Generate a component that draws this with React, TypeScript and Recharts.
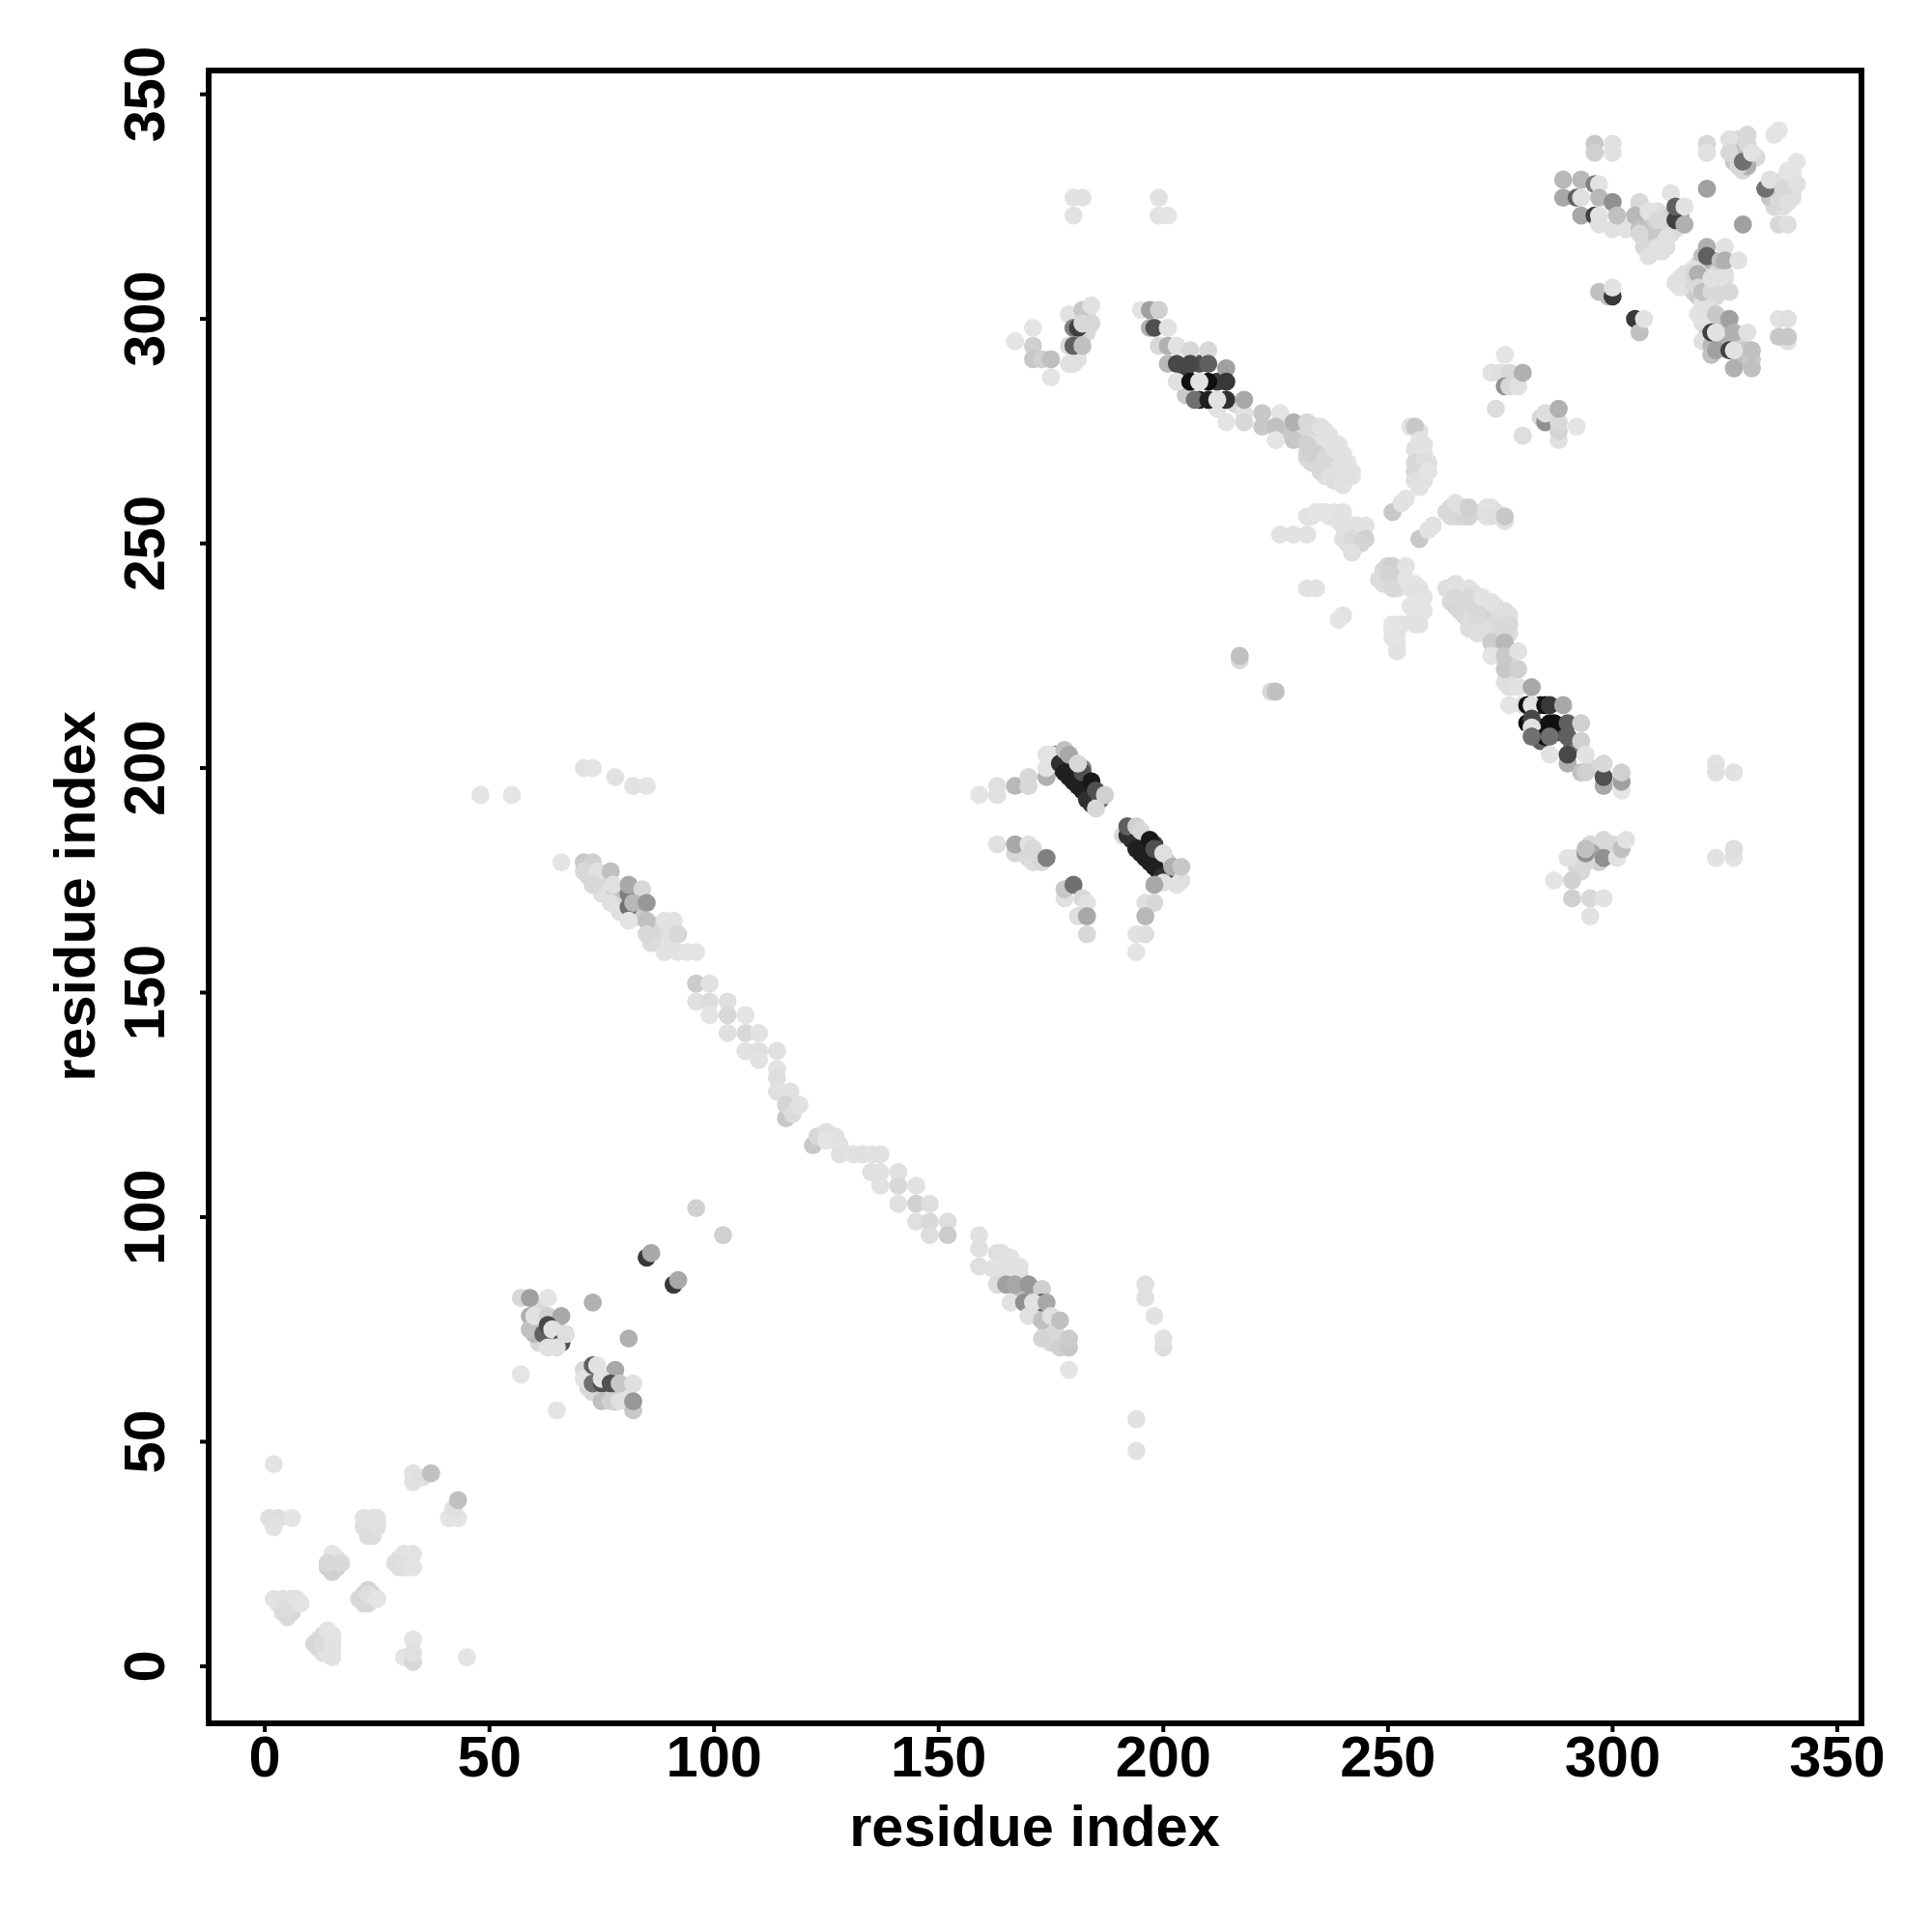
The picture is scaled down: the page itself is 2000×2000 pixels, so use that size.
import { ScatterChart, Scatter, XAxis, YAxis, ReferenceArea, Label } from 'recharts'

type Row = [number, number, number] // x, y, grey level

const TICKS = [0, 50, 100, 150, 200, 250, 300, 350]
const AXIS_TITLE = 'residue index'

// residues that only show as overlap inside the blobs, drawn first
const startFill: Row[] = [
  [3, 14, 222], [4, 13, 216], [5, 14, 216], [6, 13, 216], [4, 12, 220], [6, 12, 216], [5, 12, 216], [7, 14, 220],
  [12, 6, 216], [13, 7, 218], [12, 4, 216], [13, 3, 222], [14, 3, 226], [14, 5, 216], [14, 6, 216], [15, 5, 222], [15, 3, 224], [15, 6, 222],
  [15, 22, 200], [16, 24, 222], [16, 22, 200], [15, 24, 224], [14, 22, 208],
  [23, 32, 226], [24, 33, 224], [23, 30, 220], [24, 30, 222], [24, 29, 222], [25, 32, 224], [24, 31, 222],
  [30, 24, 222], [30, 22, 222], [32, 24, 226], [32, 23, 226], [31, 23, 224],
  [22, 16, 210], [22, 14, 216], [24, 16, 216],
]

const helixFill: Row[] = [
  [61, 80, 216], [61, 76, 216], [62, 72, 216], [64, 73, 216], [65, 75, 216], [61, 72, 216], [60, 74, 184], [65, 73, 184],
  [73, 61, 216], [72, 62, 216], [73, 65, 208], [76, 61, 208], [80, 61, 224], [80, 60, 216], [81, 62, 224],
  [83, 167, 200], [79, 172, 216], [76, 175, 216], [87, 165, 216], [88, 163, 216], [86, 161, 220], [90, 161, 226],
  [75, 172, 224], [79, 168, 224], [83, 171, 168], [80, 171, 208], [78, 173, 192], [72, 176, 208],
  [164, 90, 224], [165, 88, 224], [168, 87, 220], [168, 83, 192], [171, 84, 176], [172, 79, 216], [175, 76, 208],
  [176, 74, 216], [178, 72, 200], [175, 72, 216], [174, 75, 216], [167, 87, 224], [168, 89, 226],
]

const sheetFill: Row[] = [
  [176, 202, 64], [177, 200, 40], [179, 198, 32], [181, 196, 32], [183, 194, 32], [184, 192, 56], [176, 203, 96], [180, 201, 96], [182, 200, 128],
  [193, 184, 40], [195, 181, 32], [197, 179, 32], [199, 177, 32], [201, 175, 64], [193, 186, 80], [196, 183, 64], [198, 183, 64], [200, 180, 176], [201, 179, 200],
  [183, 301, 216], [183, 297, 216], [181, 296, 208], [183, 300, 224], [181, 291, 226],
  [205, 286, 216], [205, 289, 64], [208, 290, 80], [212, 286, 64], [208, 282, 32], [205, 283, 200], [212, 280, 226], [216, 281, 216],
  [227, 277, 216], [228, 275, 200], [230, 275, 192], [231, 274, 208], [231, 276, 216], [233, 276, 216], [234, 275, 216],
  [284, 214, 32], [284, 209, 32], [284, 206, 96], [288, 208, 64], [291, 205, 128], [295, 200, 216],
  [295, 183, 216], [296, 181, 168], [297, 179, 208], [299, 183, 216], [300, 181, 96], [300, 183, 216], [301, 182, 216], [292, 178, 216], [292, 180, 226], [293, 177, 216],
]

const bandFill: Row[] = [
  [232, 274, 216], [233, 273, 208], [234, 272, 216], [235, 271, 216], [236, 270, 216], [237, 269, 220], [238, 268, 222], [239, 266, 224], [240, 265, 224],
  [233, 275, 216], [234, 274, 222], [235, 273, 224], [236, 272, 224], [237, 271, 226], [238, 270, 226], [239, 269, 226], [240, 267, 226], [241, 266, 226],
  [234, 270, 208], [235, 269, 212], [236, 267, 212], [237, 267, 216], [238, 266, 218], [239, 264, 224], [234, 268, 214], [235, 268, 218], [236, 265, 222],
  [232, 269, 218], [232, 270, 214], [234, 276, 216], [236, 275, 222], [239, 272, 226], [240, 270, 226], [241, 268, 226], [242, 265, 226], [242, 266, 226],
  [264, 239, 222], [265, 240, 224], [266, 239, 222], [267, 238, 220], [266, 237, 216], [267, 236, 214], [268, 236, 212], [269, 239, 224], [269, 235, 214],
  [270, 237, 222], [270, 232, 216], [271, 236, 214], [271, 234, 212], [272, 235, 212], [272, 233, 208], [273, 234, 212], [273, 232, 204], [274, 236, 224],
  [274, 233, 216], [275, 234, 220], [275, 231, 212], [276, 232, 216], [277, 234, 224], [277, 230, 222], [274, 230, 214], [275, 229, 208], [276, 230, 216],
  [272, 231, 220], [264, 237, 216], [265, 236, 214], [266, 235, 214], [267, 234, 216], [268, 231, 222], [269, 232, 220], [270, 230, 222], [271, 231, 222],
  [277, 226, 216], [276, 224, 212], [277, 223, 216], [277, 220, 222], [276, 219, 224],
  [257, 270, 224], [256, 271, 224], [257, 266, 220], [258, 266, 224], [258, 264, 224], [257, 264, 220], [259, 268, 224], [257, 275, 226], [258, 270, 226],
  [233, 256, 226], [235, 257, 226], [237, 256, 226], [238, 257, 228], [239, 255, 226], [241, 254, 224], [243, 254, 224], [241, 252, 220], [243, 252, 216], [243, 250, 214], [241, 250, 218], [244, 252, 212], [238, 256, 226],
  [249, 244, 216], [250, 245, 212], [249, 241, 222], [252, 242, 216], [252, 244, 222], [253, 243, 224], [251, 242, 214], [252, 240, 222], [255, 240, 226], [256, 241, 228],
  [258, 238, 228], [255, 236, 228], [256, 236, 228], [258, 235, 228], [257, 232, 226], [256, 234, 226], [251, 231, 228], [252, 230, 228], [253, 232, 226], [252, 228, 228],
  [264, 258, 216], [266, 257, 216], [265, 256, 214], [266, 256, 214], [264, 256, 218], [267, 256, 214], [269, 257, 216], [273, 258, 226], [274, 257, 222], [271, 257, 224], [275, 256, 226],
]

const cornerFill: Row[] = [
  [306, 325, 218], [307, 324, 216], [308, 322, 210], [309, 323, 216], [309, 320, 200], [310, 324, 222], [311, 323, 220], [311, 320, 204], [312, 322, 216], [312, 320, 208],
  [313, 321, 212], [313, 323, 208], [309, 317, 208], [311, 317, 212], [309, 315, 216], [307, 318, 212], [307, 316, 216], [308, 318, 208], [308, 320, 200], [307, 322, 204],
  [313, 319, 216], [314, 320, 220], [311, 315, 224], [312, 316, 224], [315, 323, 128],
  [315, 309, 224], [316, 308, 220], [317, 307, 216], [318, 306, 212], [317, 309, 216], [315, 307, 226], [319, 305, 200], [320, 304, 216], [320, 308, 192], [321, 307, 176],
  [321, 310, 184], [322, 311, 200], [320, 311, 216], [319, 312, 216], [320, 314, 192], [322, 313, 176], [323, 310, 216], [323, 308, 224], [324, 307, 216], [325, 309, 226],
  [324, 311, 216], [325, 310, 224], [323, 305, 216], [321, 304, 224], [318, 308, 216], [320, 303, 226], [321, 302, 224], [320, 299, 226], [322, 300, 224], [321, 298, 224], [319, 301, 226],
  [327, 339, 216], [328, 340, 216], [329, 338, 192], [327, 335, 200], [328, 337, 192], [332, 336, 216], [329, 333, 216], [330, 334, 176],
  [336, 328, 200], [337, 330, 216], [338, 327, 216], [339, 328, 224], [340, 328, 224], [336, 325, 216], [335, 327, 200], [338, 325, 224], [338, 331, 224], [340, 332, 228], [340, 333, 228], [340, 327, 222],
  [321, 296, 200], [320, 295, 224], [322, 294, 184], [322, 292, 192], [324, 295, 176], [325, 298, 176], [325, 296, 200], [325, 294, 176], [328, 296, 184], [328, 292, 192], [329, 294, 208], [330, 291, 192], [330, 293, 200], [331, 291, 200],
  [324, 299, 184],
]

// contacts near the chain start
const startContacts: Row[] = [
  [2, 45, 228], [1, 33, 224], [3, 33, 222], [6, 33, 228], [2, 31, 226],
  [15, 25, 228], [15, 21, 208], [14, 23, 216], [17, 23, 216],
  [22, 33, 226], [25, 33, 226], [22, 31, 224], [23, 29, 220], [25, 31, 224],
  [31, 25, 226], [33, 25, 226], [29, 23, 222], [31, 22, 224], [33, 22, 228],
  [33, 43, 226], [33, 41, 226], [35, 42, 224], [37, 43, 192],
  [41, 33, 228], [43, 33, 228], [42, 35, 224], [43, 37, 192],
  [2, 15, 226], [4, 15, 224], [6, 15, 224], [5, 11, 216], [5, 13, 220], [7, 15, 226], [8, 14, 228],
  [11, 5, 216], [13, 5, 220], [15, 2, 226], [15, 4, 226], [15, 7, 226], [14, 8, 228],
  [21, 15, 216], [23, 14, 216], [23, 17, 212], [23, 16, 222], [25, 15, 228],
  [33, 6, 228], [31, 2, 228], [33, 1, 216], [33, 3, 224], [45, 2, 228],
]

const helixA: Row[] = [
  [57, 82, 216], [59, 82, 160], [63, 82, 228], [59, 78, 176], [59, 75, 192], [60, 78, 226], [63, 78, 208],
  [66, 78, 168], [62, 74, 96], [63, 76, 72], [64, 75, 226], [66, 72, 80], [63, 71, 224], [65, 71, 224], [67, 74, 222],
  [73, 81, 176], [81, 73, 176], [85, 91, 56], [86, 92, 168], [91, 85, 56], [92, 86, 168],
  [57, 65, 228], [65, 57, 228],
  [71, 66, 216], [71, 64, 226], [73, 67, 96], [74, 67, 226], [78, 66, 168], [73, 63, 112], [75, 63, 80], [75, 64, 226],
  [77, 63, 80], [79, 63, 200], [82, 63, 224], [75, 59, 192], [78, 59, 176], [77, 59, 208], [79, 59, 224], [82, 57, 200], [82, 59, 152],
]

const strandLower: Row[] = [
  [48, 194, 228], [55, 194, 228], [71, 200, 226], [73, 200, 228], [78, 198, 226], [82, 196, 226], [85, 196, 228],
  [66, 179, 228], [71, 179, 200], [73, 179, 208], [71, 177, 216], [74, 177, 224], [73, 174, 216], [77, 177, 192],
  [77.5, 174, 224], [81, 172, 128], [81, 174, 168], [84, 173, 216], [77, 170, 224], [81, 169, 112], [82, 170, 184],
  [85, 170, 152], [81, 166, 228], [85, 166, 192], [85, 163, 216], [89, 166, 226], [91, 166, 226], [90, 163, 224], [92, 163, 216],
  [89, 159, 226], [92, 159, 226], [94, 159, 228], [96, 159, 228],
]

const strandMiddle: Row[] = [
  [96, 152, 204], [99, 152, 226], [96, 148, 224], [99, 148, 220], [103, 148, 224], [99, 145, 228], [103, 145, 216], [107, 145, 228],
  [103, 141, 224], [107, 141, 216], [110, 141, 226], [107, 137, 226], [110, 137, 224], [114, 137, 224], [110, 135, 226],
  [114, 133, 226], [114, 131, 222], [114, 128, 224], [117, 128, 224], [116, 122, 200], [116, 125, 212], [117.5, 123, 220], [119, 125, 226],
  [122, 116, 200], [123, 118, 216], [125, 119, 224], [127, 118, 224], [125, 117, 228], [128, 116, 226], [128, 114, 224],
  [131, 114, 226], [133, 114, 224], [135, 114, 226], [137, 114, 224], [135, 110, 224], [137, 110, 226], [137, 107, 226],
  [141, 110, 224], [141, 107, 216], [145, 107, 226], [141, 103, 224], [145, 103, 208], [148, 103, 222], [145, 99, 224],
  [148, 99, 216], [152, 99, 222], [148, 96, 222], [152, 96, 204], [96, 102, 208], [102, 96, 208],
]

const strandUpper: Row[] = [
  [159, 96, 226], [159, 93, 224], [159, 89, 224], [163, 92, 222], [164, 92, 224], [162, 88.5, 226], [166, 91, 226], [166, 89, 226],
  [163, 85, 220], [165, 85, 160], [167, 85, 168], [170, 85, 152], [173, 84, 208], [166, 81, 226], [169, 81, 144],
  [173, 81, 96], [171, 81, 226], [174, 81, 168], [170, 78, 224], [173, 77, 192], [175, 78, 224], [177, 77, 192],
  [173, 73, 212], [177, 72, 216], [177, 71, 208], [179, 71, 200], [179, 73, 204], [179, 66, 228],
  [196, 85, 224], [196, 82, 224], [198, 78, 226], [200, 71, 222], [200, 73, 226], [194, 55, 226], [194, 48, 226],
]

const sheetA: Row[] = [
  [159, 194, 228], [163, 196, 224], [163, 194, 224], [167, 196, 184], [170, 196, 216], [170, 198, 216], [174, 198, 176], [174, 200, 226],
  [174, 203, 226], [175, 203, 228], [177, 201, 48], [178, 199, 32], [180, 197, 32], [182, 195, 32], [183, 193, 48],
  [178, 204, 192], [179, 203, 168], [182, 199, 80], [181, 201, 216], [184, 197, 24], [186, 193, 112], [185, 191, 216], [185, 195, 80], [187, 194, 208],
  [191, 185, 216], [192, 185, 48], [194, 182, 32], [196, 180, 32], [198, 178, 32], [200, 176, 48], [192, 187, 96], [194, 187, 208], [195, 186, 216],
  [197, 184, 24], [198, 182, 80], [200, 181, 224], [202, 178, 176], [204, 175, 224], [203, 174, 224], [200, 174.5, 224], [198, 174, 168], [204, 178, 200],
  [196, 170, 224], [198, 170, 216], [196, 167, 184], [194, 163, 226], [196, 163, 222], [194, 159, 228],
  [163, 183, 224], [167, 181, 216], [167, 183, 168], [170, 180, 216], [171, 179, 220], [173, 179, 216], [170, 183, 226], [171, 182, 216], [174, 180, 128],
  [178, 171, 224], [178, 173, 200], [180, 174, 112], [182, 171, 216], [183, 170, 226], [181, 167, 222], [183, 167, 168], [183, 163, 216],
]

const sheetB: Row[] = [
  [180, 327, 226], [182, 327, 224], [180, 323, 226], [199, 327, 226], [199, 323, 226], [201, 323, 228],
  [167, 295, 228], [171, 298, 228], [171, 294, 208], [171, 291, 200], [173, 291, 208], [175, 287, 228], [175, 291, 192],
  [179, 294, 216], [180, 294, 96], [182, 294, 192], [179, 290, 226], [180, 290, 224], [179, 301, 226], [180, 298, 128], [181, 298, 64], [182, 302, 200],
  [182, 299, 216], [184, 299, 216], [184, 303, 226],
  [195, 302, 228], [197, 302, 160], [199, 302, 208], [197, 298, 176], [198, 298, 80], [201, 298, 226], [199, 294, 216], [201, 294, 176], [203, 294, 226],
  [206, 293, 216], [210, 293, 216], [201, 290, 184], [203, 290, 72], [206, 290, 72], [210, 290, 96], [214, 289, 160],
  [203, 286, 224], [206, 286, 16], [210, 286, 16], [208, 286, 226], [214, 286, 56], [207, 282, 112], [210, 282, 32], [214, 282, 48], [212, 282, 226],
  [218, 279, 226], [218, 282, 168], [214, 277, 228], [218, 277, 216], [222, 276, 200], [222, 279, 200], [226, 279, 228], [225, 276, 192], [225, 273, 228],
  [229, 273, 200], [229, 277, 176], [232, 272, 208], [232, 277, 216], [233, 268, 216], [233, 270, 208], [235, 266, 216], [235, 276, 224], [236, 269, 216],
  [237, 265, 224], [237, 274, 226], [238, 271, 226], [238, 264, 222], [239, 267, 224], [240, 263, 226], [240, 268, 224], [241, 265, 224],
]

const centreCross: Row[] = [
  [255, 276, 226], [256, 276, 200], [257, 273, 226], [258, 272, 226], [256, 268, 216], [258, 268, 222], [256, 266, 216], [256, 264, 224], [257, 262.5, 226], [259, 266, 228],
  [251, 257, 200], [253, 259, 226], [254, 260, 226], [257, 251, 200], [259, 253, 226], [260, 254, 226],
  [263, 257, 216], [265, 259, 224], [267, 258, 224], [268, 256, 212], [268, 258, 208], [272, 258, 226], [272, 256, 224], [273, 256, 224], [276, 255, 224], [276, 256, 200],
  [226, 252, 226], [229, 252, 226], [232, 252, 226], [232, 256, 226], [234, 257, 228], [236, 257, 228], [240, 257, 226], [240, 254, 226], [242, 254, 226], [245, 254, 226],
  [240, 251, 224], [242, 251, 218], [245, 251, 208], [244, 250, 212], [242, 248, 224], [232, 240, 226], [234, 240, 226], [240, 234, 226], [239, 233, 228],
  [251, 245, 208], [248, 242, 220], [250, 243, 212], [251, 240, 216], [254, 245, 226], [254, 242, 228], [257, 240, 226], [257, 237, 228], [257, 234, 228], [256, 232, 226],
  [251, 232, 228], [251, 229, 228], [252, 226, 226],
]

const strandRight: Row[] = [
  [263, 240, 222], [265, 241, 224], [265, 238, 216], [268, 240, 224], [268, 238, 216], [268, 233, 220], [270, 234, 216], [271, 238, 226], [273, 237, 226],
  [276, 235, 222], [277, 232, 216], [273, 228, 204], [276, 228, 184], [273, 225, 228], [276, 225, 200], [279, 226, 226], [276, 222, 200], [279, 222, 208],
  [277, 218, 222], [279, 218, 226], [282, 218, 168], [277, 214, 228], [280, 214, 226],
  [217, 224, 216], [217, 225, 192], [224, 217, 216], [225, 217, 192],
  [276, 292, 228], [273, 288, 226], [275, 288, 224], [277, 288, 216], [276, 285, 144], [277, 285, 216], [279, 285, 224], [280, 288, 176], [274, 280, 220],
  [284, 278, 216], [285, 277, 144], [285, 279, 222], [288, 273, 224], [288, 275, 212], [288, 277, 216], [288, 280, 176], [292, 276, 228], [280, 274, 222],
]

const darkBlock: Row[] = [
  [281, 214, 16], [282, 214, 226], [285, 214, 16], [286, 214, 56], [289, 214, 168], [281, 210, 16], [282, 211, 72], [282, 209, 226], [285, 207, 16], [286, 210, 16], [287, 210, 16],
  [290, 210, 96], [293, 210, 208], [282, 207, 112], [286, 207, 112], [290, 207, 96], [293, 206, 208], [286, 203, 226], [290, 201, 176], [290, 203, 72], [294, 203, 226],
  [293, 199, 192], [294, 199, 208], [298, 196, 168], [298, 198, 80], [298, 201, 216], [302, 195, 228], [302, 197, 160], [302, 199, 208],
  [323, 201, 226], [323, 199, 224], [327, 199, 226], [323, 180, 226], [327, 180, 226], [327, 182, 222],
  [290, 180, 226], [294, 179, 216], [294, 181, 144], [294, 182, 192], [298, 180, 144], [298, 184, 216], [301, 180, 226], [302, 182, 192], [303, 184, 226],
  [287, 175, 228], [291, 175, 208], [291, 171, 208], [295, 171, 216], [298, 171, 226], [295, 167, 226],
]

const cornerContacts: Row[] = [
  [296, 339, 200], [300, 339, 224], [296, 337, 208], [300, 337, 224],
  [289, 331, 184], [293, 331, 184], [296, 330, 128], [297, 330, 226], [289, 327, 168], [292, 327, 96], [293, 327, 224], [297, 327, 184], [300, 326, 144],
  [293, 323, 168], [296, 323, 64], [297, 323, 226], [297, 321, 224], [300, 320, 224], [303, 320, 226], [301, 323, 192],
  [306, 326, 216], [305, 323, 184], [306, 320, 192], [306, 319, 216], [308, 324, 226], [308, 316, 216], [308, 314, 224], [310, 322, 216], [310, 318, 200], [310, 316, 224],
  [312, 318, 224], [313, 328, 226], [314, 322, 64], [314, 325, 96], [316, 321, 176], [316, 325, 226],
  [321, 329, 160], [321, 339, 216], [321, 337, 224], [326, 340, 224], [326, 337, 216], [328, 334, 216], [329, 335, 112], [330, 341, 216], [330, 339, 216], [331, 337, 226],
  [336, 341, 228], [337, 342, 228], [339, 333, 228], [341, 335, 228], [334, 329, 112], [335, 331, 224], [338, 329, 216], [341, 330, 224], [337, 326, 216], [339, 326, 222],
  [337, 321, 216], [339, 321, 222], [329, 321, 160],
  [321, 316, 176], [321, 314, 96], [324, 313, 192], [325, 316, 226], [325, 313, 176], [328, 313, 226],
  [314, 308, 224], [316, 310, 224], [318, 311, 224], [318, 310, 216], [319, 310, 176], [319, 307, 216], [320, 306, 192], [322, 306, 216], [322, 309, 224], [326, 306, 216],
  [297, 306, 192], [299, 305, 192], [300, 305, 56], [300, 307, 226], [305, 300, 56], [306, 297, 192], [307, 300, 226],
  [320, 301, 226], [323, 301, 200], [326, 300, 160], [322, 297, 64], [323, 297, 226], [327, 297, 176], [330, 297, 224], [323, 293, 160], [326, 293, 64], [327, 293, 226],
  [331, 293, 192], [327, 289, 176], [331, 289, 192], [337, 300, 226], [339, 300, 224], [339, 295, 226], [337, 296, 200], [339, 296, 200],
]

const GROUPS = [
  startFill, helixFill, sheetFill, bandFill, cornerFill,
  startContacts, helixA, strandLower, strandMiddle, strandUpper, sheetA, sheetB, centreCross, strandRight, darkBlock, cornerContacts,
]

const FONT = '"Liberation Sans", Arial, sans-serif'
const FONT_SIZE = 59.5

const toPoints = (rows: Row[]) => rows.map(([x, y, shade]) => ({ x, y, shade }))

function Dot(props: any) {
  const { cx, cy, payload } = props
  const g = payload.shade
  return <circle cx={cx} cy={cy} r={9.4} fill={`rgb(${g},${g},${g})`} />
}

function XTick({ x, payload }: any) {
  return (
    <text x={x} y={1839} textAnchor="middle" fontFamily={FONT} fontWeight="bold" fontSize={FONT_SIZE} fill="#000">
      {payload.value}
    </text>
  )
}

function YTick({ y, payload }: any) {
  return (
    <text
      transform={`translate(170,${y}) rotate(-90)`}
      textAnchor="middle"
      fontFamily={FONT}
      fontWeight="bold"
      fontSize={FONT_SIZE}
      fill="#000"
    >
      {payload.value}
    </text>
  )
}

export default function App() {
  return (
    <div style={{ position: 'absolute', left: 0, top: 0, width: 2000, height: 2000, background: '#fff' }}>
      <ScatterChart width={2000} height={2000} margin={{ top: 73, right: 73, bottom: 0, left: 0 }}>
        <XAxis
          type="number"
          dataKey="x"
          domain={[-12.5, 355.4]}
          ticks={TICKS}
          height={216}
          axisLine={false}
          tickLine={{ stroke: '#000', strokeWidth: 4 }}
          tickSize={9}
          tick={<XTick />}
          interval={0}
          allowDataOverflow
        >
          <Label
            content={() => (
              <text x={1071} y={1911} textAnchor="middle" fontFamily={FONT} fontWeight="bold" fontSize={FONT_SIZE} fill="#000">
                {AXIS_TITLE}
              </text>
            )}
          />
        </XAxis>
        <YAxis
          type="number"
          dataKey="y"
          domain={[-12.7, 355.3]}
          ticks={TICKS}
          width={216}
          axisLine={false}
          tickLine={{ stroke: '#000', strokeWidth: 4 }}
          tickSize={9}
          tick={<YTick />}
          interval={0}
          allowDataOverflow
        >
          <Label
            content={() => (
              <text
                transform="translate(98,928) rotate(-90)"
                textAnchor="middle"
                fontFamily={FONT}
                fontWeight="bold"
                fontSize={FONT_SIZE}
                fill="#000"
              >
                {AXIS_TITLE}
              </text>
            )}
          />
        </YAxis>
        {GROUPS.map((rows, i) => (
          <Scatter key={i} data={toPoints(rows)} shape={<Dot />} isAnimationActive={false} />
        ))}
        <ReferenceArea x1={-12.5} x2={355.4} y1={-12.7} y2={355.3} fill="none" stroke="#000" strokeWidth={6} />
      </ScatterChart>
    </div>
  )
}
